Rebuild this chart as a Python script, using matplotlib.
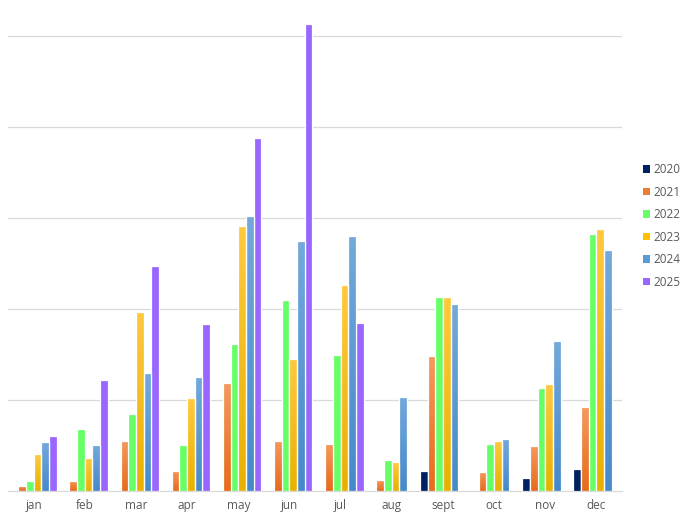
import numpy as np
import matplotlib
matplotlib.use('Agg')
import matplotlib.pyplot as plt
from matplotlib.colors import LinearSegmentedColormap
from matplotlib.patches import Patch

# month labels on the x axis
months = ['jan', 'feb', 'mar', 'apr', 'may', 'jun',
          'jul', 'aug', 'sept', 'oct', 'nov', 'dec']
years = ['2020', '2021', '2022', '2023', '2024', '2025']

nan = np.nan
# values (gridline step = 100)
v2020 = [nan, nan, nan, nan, nan, nan, nan, nan, 22, nan, 14, 24]
v2021 = [5.5, 11, 55, 22, 118.5, 55, 51.6, 12, 148, 21, 49.4, 92]
v2022 = [11, 68, 84.5, 50.5, 161.4, 209.7, 149.3, 34, 213.3, 51.6, 113, 282]
v2023 = [40.6, 36.2, 196.5, 102, 290.9, 145, 226, 31.8, 213.3, 54.9, 117.5, 287.6]
v2024 = [53.8, 50.5, 129.5, 125, 301.9, 274.4, 280, 103.2, 205.3, 57.1, 164.7, 264.5]
v2025 = [60.4, 121.8, 247, 183.3, 387.5, 512.6, 184.4, nan, nan, nan, nan, nan]

series = [v2020, v2021, v2022, v2023, v2024, v2025]
colors = ['#002060', '#ED7D31', '#66FF66', '#FFC000', '#5B9BD5', '#9966FF']
# (top, bottom) gradient colours for the shaded series
gradients = {
    1: ('#F4995F', '#E66B1C'),
    3: ('#FFC93F', '#E8B100'),
    4: ('#73A9DC', '#4689CA'),
}

fig = plt.figure(figsize=(6.85, 5.15), dpi=100)
ax = fig.add_axes([8 / 685, 1 - 491 / 515, 614 / 685, 481 / 515])

x = np.arange(len(months))
pitch = 0.15
lw = 0.9
for i, vals in enumerate(series):
    xs = x + (i - 2.5) * pitch
    bars = ax.bar(xs, vals, width=pitch, color=colors[i],
                  edgecolor='white', linewidth=lw, zorder=3)
    if i in gradients:
        top, bot = gradients[i]
        cmap = LinearSegmentedColormap.from_list('g', [bot, top])
        grad = np.linspace(1, 0, 64).reshape(-1, 1)
        for b, val in zip(bars, vals):
            if np.isnan(val):
                continue
            x0 = b.get_x()
            im = ax.imshow(grad, extent=[x0, x0 + b.get_width(), 0, val],
                           aspect='auto', cmap=cmap, zorder=3.5,
                           interpolation='bicubic')
            im.set_clip_path(b)
            # white separation drawn again on top
            ax.bar(b.get_x() + b.get_width() / 2, val, width=b.get_width(),
                   facecolor='none', edgecolor='white', linewidth=lw, zorder=4)

ax.set_xlim(-0.5, len(months) - 0.5)
ax.set_ylim(0, 528)
ax.set_yticks([100, 200, 300, 400, 500])
ax.set_yticklabels([])
ax.tick_params(axis='y', length=0)
ax.grid(axis='y', color='#D9D9D9', linewidth=0.9, zorder=0)
ax.set_xticks(x)
ax.set_xticklabels(months, fontsize=8.5, color='#595959', family='Open Sans')
ax.tick_params(axis='x', length=0, pad=6)
for s in ['top', 'right', 'left']:
    ax.spines[s].set_visible(False)
ax.spines['bottom'].set_color('#D9D9D9')
ax.spines['bottom'].set_linewidth(0.9)

handles = [Patch(facecolor=c, edgecolor='none') for c in colors]
leg = fig.legend(handles, years, loc='center left',
                 bbox_to_anchor=(632 / 685, 1 - 226 / 515), frameon=False,
                 handlelength=0.6, handleheight=0.6, handletextpad=0.35,
                 labelspacing=0.8, prop={'family': 'Open Sans', 'size': 8.5})
for t in leg.get_texts():
    t.set_color('#595959')

fig.savefig('out.png', dpi=100)
